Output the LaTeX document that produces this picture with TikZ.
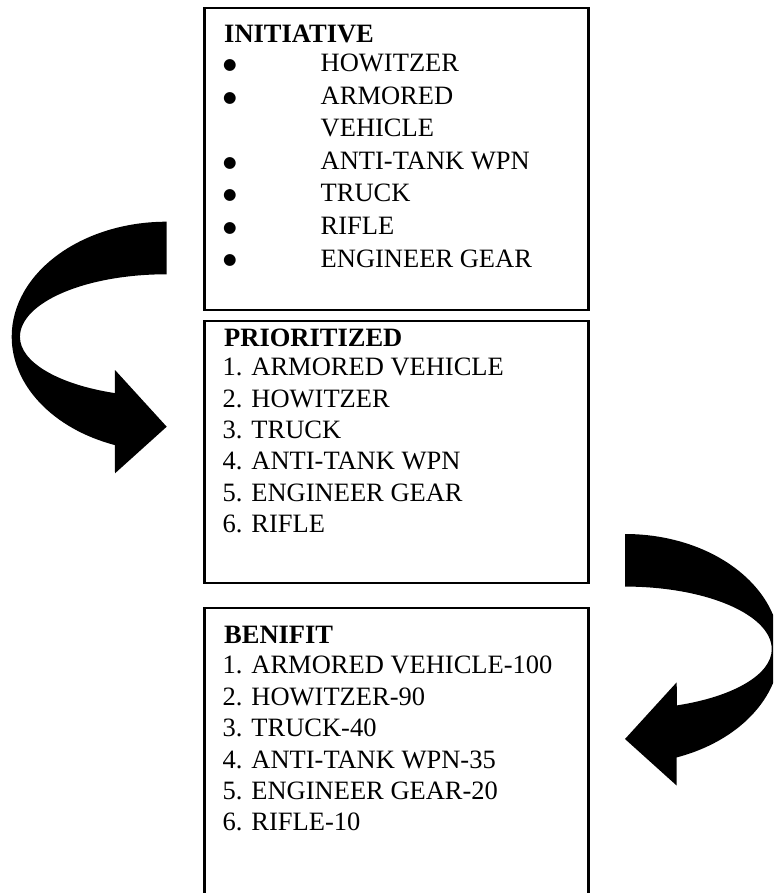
\documentclass[tikz,border=0pt]{standalone}
\usepackage{fontspec}
\setmainfont{Liberation Serif}
\newfontfamily\dejavu{DejaVu Sans}
\begin{document}
\begin{tikzpicture}[x=1pt,y=1pt,
  txt/.style={anchor=base west, inner sep=0pt, font=\fontsize{26.5}{30}\selectfont},
  hdr/.style={anchor=base west, inner sep=0pt, font=\fontsize{26.5}{30}\selectfont\bfseries},
  bul/.style={anchor=center, inner sep=0pt, font=\dejavu\fontsize{15.5}{16}\selectfont},
  boxn/.style={draw, line width=2.2pt, minimum width=384pt, inner sep=0pt, outer sep=0pt},
  bigarrow/.style={fill=black}]
\useasboundingbox (0,0) rectangle (773,-893);
\clip (0,0) rectangle (773,-893);

% boxes
\node[boxn, minimum height=302.2pt] (box1) at (396.5,-158.9) {};
\node[boxn, minimum height=261.7pt] (box2) at (396.5,-451.85) {};
\node[boxn, minimum height=312.2pt] (box3) at (396.5,-763.9) {};

% curved arrows
\begin{scope}
\fill[bigarrow] (166.7,-221.7) arc[start angle=90, end angle=250.5, x radius=155, y radius=115]
  -- (115,-473.3) -- (166.7,-426.7) -- (115,-370) -- (114.8,-393.1)
  arc[start angle=249.3, end angle=180, x radius=146.7, y radius=60]
  arc[start angle=180, end angle=90, x radius=146.7, y radius=62.7] -- cycle;
\end{scope}
\begin{scope}[xshift=791.7pt, yshift=-312.3pt, xscale=-1]
\fill[bigarrow] (166.7,-221.7) arc[start angle=90, end angle=250.5, x radius=155, y radius=115]
  -- (115,-473.3) -- (166.7,-426.7) -- (115,-370) -- (114.8,-393.1)
  arc[start angle=249.3, end angle=180, x radius=146.7, y radius=60]
  arc[start angle=180, end angle=90, x radius=146.7, y radius=62.7] -- cycle;
\end{scope}

% box 1
\node[hdr] (h1) at (224,-43) {INITIATIVE};
\node[bul] (b1) at (230,-65.5) {●};
\node[txt] (i1) at (320.5,-72) {HOWITZER};
\node[bul] (b2) at (230,-98) {●};
\node[txt] (i2) at (320.5,-104.5) {ARMORED};
\node[txt] (i2b) at (320.5,-137) {VEHICLE};
\node[bul] (b3) at (230,-163) {●};
\node[txt] (i3) at (320.5,-169.5) {ANTI-TANK WPN};
\node[bul] (b4) at (230,-195.5) {●};
\node[txt] (i4) at (320.5,-202) {TRUCK};
\node[bul] (b5) at (230,-228) {●};
\node[txt] (i5) at (320.5,-234.5) {RIFLE};
\node[bul] (b6) at (230,-260.5) {●};
\node[txt] (i6) at (320.5,-267) {ENGINEER GEAR};

% box 2
\node[hdr] (h2) at (224,-346) {PRIORITIZED};
\node[txt] (p1) at (222.5,-375) {1. ARMORED VEHICLE};
\node[txt] (p2) at (222.5,-407) {2. HOWITZER};
\node[txt] (p3) at (222.5,-438) {3. TRUCK};
\node[txt] (p4) at (222.5,-469.5) {4. ANTI-TANK WPN};
\node[txt] (p5) at (222.5,-501) {5. ENGINEER GEAR};
\node[txt] (p6) at (222.5,-532) {6. RIFLE};

% box 3
\node[hdr] (h3) at (224,-643) {BENIFIT};
\node[txt] (q1) at (222.5,-673.5) {1. ARMORED VEHICLE-100};
\node[txt] (q2) at (222.5,-705) {2. HOWITZER-90};
\node[txt] (q3) at (222.5,-736.5) {3. TRUCK-40};
\node[txt] (q4) at (222.5,-768) {4. ANTI-TANK WPN-35};
\node[txt] (q5) at (222.5,-799.5) {5. ENGINEER GEAR-20};
\node[txt] (q6) at (222.5,-830.5) {6. RIFLE-10};
\end{tikzpicture}
\end{document}
